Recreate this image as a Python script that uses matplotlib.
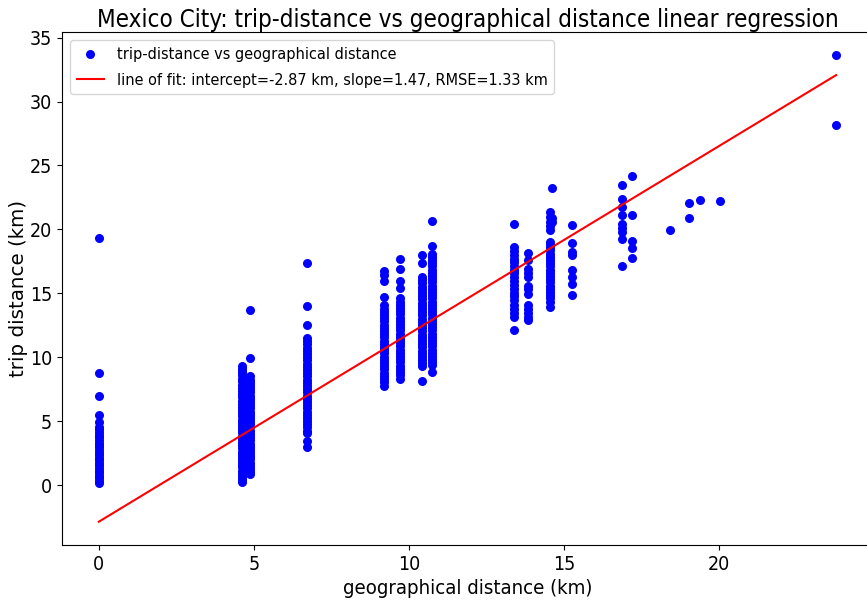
import os
import matplotlib
matplotlib.use("Agg")
import matplotlib.pyplot as plt
import matplotlib.font_manager as fm
import numpy as np

# ---------------- data ----------------
# each geographical distance (km) with the trip distances (km) observed there
geo_00_00 = 0.00
trip_00_00 = [19.3, 8.75, 6.95, 5.5, 4.9, 4.55, 4.35, 4.12, 3.95, 3.72, 3.55, 3.31, 3.12,
              2.95, 2.74, 2.52, 2.35, 2.14, 1.95, 1.72, 1.55, 1.33, 1.12, 0.95, 0.73,
              0.55, 0.34, 0.15]
geo_04_60 = 4.60
trip_04_60 = [9.35, 9.1, 8.85, 8.6, 8.33, 8.1, 7.86, 7.6, 7.35, 7.12, 6.88, 6.6, 6.37,
              6.1, 5.86, 5.62, 5.37, 5.1, 4.86, 4.62, 4.36, 4.12, 3.87, 3.6, 3.36, 3.12,
              2.86, 2.62, 2.37, 2.12, 1.86, 1.61, 1.37, 1.12, 0.86, 0.6, 0.42, 0.26]
geo_04_87 = 4.87
trip_04_87 = [13.7, 9.9, 8.5, 8.25, 8.0, 7.74, 7.5, 7.26, 7.0, 6.75, 6.5, 6.26, 6.0,
              5.74, 5.5, 5.25, 5.0, 4.75, 4.5, 4.25, 4.0, 3.75, 3.5, 3.24, 3.0, 2.75,
              2.5, 2.25, 2.0, 1.75, 1.5, 1.25, 1.05, 0.86]
geo_06_70 = 6.70
trip_06_70 = [17.4, 14.0, 12.55, 11.5, 11.26, 11.0, 10.75, 10.5, 10.24, 10.0, 9.75, 9.5,
              9.25, 9.0, 8.74, 8.5, 8.25, 8.0, 7.75, 7.5, 7.25, 7.0, 6.75, 6.5, 6.25,
              6.0, 5.75, 5.5, 5.25, 5.0, 4.75, 4.5, 4.25, 4.04, 3.45, 2.99]
geo_09_20 = 9.20
trip_09_20 = [16.74, 16.4, 15.94, 14.7, 14.06, 13.8, 13.55, 13.3, 13.05, 12.8, 12.55,
              12.3, 12.05, 11.8, 11.55, 11.3, 11.05, 10.8, 10.55, 10.3, 10.05, 9.8,
              9.55, 9.3, 9.05, 8.8, 8.55, 8.3, 8.05, 7.73]
geo_09_71 = 9.71
trip_09_71 = [17.7, 16.87, 15.94, 15.4, 14.6, 14.35, 14.1, 13.85, 13.6, 13.35, 13.1,
              12.85, 12.6, 12.35, 12.1, 11.85, 11.6, 11.35, 11.1, 10.85, 10.6, 10.35,
              10.1, 9.85, 9.6, 9.35, 9.1, 8.85, 8.6, 8.33]
geo_10_41 = 10.41
trip_10_41 = [18.0, 17.4, 16.27, 16.02, 15.78, 15.52, 15.27, 15.02, 14.77, 14.52, 14.27,
              14.02, 13.77, 13.52, 13.27, 13.02, 12.77, 12.52, 12.27, 12.02, 11.77,
              11.52, 11.27, 11.02, 10.77, 10.52, 10.27, 10.02, 9.77, 9.52, 9.3, 8.15]
geo_10_73 = 10.73
trip_10_73 = [20.65, 18.67, 18.1, 17.85, 17.6, 17.35, 17.1, 16.85, 16.6, 16.35, 16.1,
              15.85, 15.6, 15.35, 15.1, 14.85, 14.6, 14.35, 14.1, 13.85, 13.6, 13.35,
              13.1, 12.85, 12.6, 12.35, 12.1, 11.85, 11.6, 11.35, 11.1, 10.85, 10.6,
              10.35, 10.1, 9.85, 9.6, 9.4, 8.85]
geo_13_37 = 13.37
trip_13_37 = [20.45, 18.6, 18.3, 18.0, 17.72, 17.45, 17.15, 16.85, 16.55, 16.25, 15.95,
              15.65, 15.35, 15.05, 14.75, 14.45, 14.1, 13.75, 13.45, 13.15, 12.15]
geo_13_82 = 13.82
trip_13_82 = [18.15, 17.58, 16.93, 16.6, 16.27, 15.6, 15.3, 14.98, 14.06, 13.75, 13.45,
              13.15, 12.9]
geo_14_55 = 14.55
trip_14_55 = [21.35, 20.96, 20.6, 20.3, 19.95, 19.0, 18.88, 18.6, 18.35, 18.1, 17.85,
              17.6, 17.35, 17.1, 16.85, 16.6, 16.35, 16.1, 15.85, 15.6, 15.35, 15.1,
              14.85, 14.6, 14.32, 13.93]
geo_14_62 = 14.62
trip_14_62 = [23.25, 20.9, 20.6]
geo_15_25 = 15.25
trip_15_25 = [20.37, 18.96, 18.23, 17.97, 16.8, 16.27, 15.76, 14.84]
geo_16_86 = 16.86
trip_16_86 = [23.44, 22.4, 21.74, 21.1, 20.45, 20.12, 19.8, 19.27, 17.1]
geo_17_20 = 17.20
trip_17_20 = [24.14, 21.12, 19.06, 18.57, 17.76]
geo_18_40 = 18.40
trip_18_40 = [19.92]
geo_19_02 = 19.02
trip_19_02 = [22.09, 20.92]
geo_19_39 = 19.39
trip_19_39 = [22.27]
geo_20_04 = 20.04
trip_20_04 = [22.21]
geo_23_77 = 23.77
trip_23_77 = [33.62, 28.18]

fit_intercept_km = -2.87
fit_slope = 1.47
fit_rmse_km = 1.33

x_ticks = [0, 5, 10, 15, 20]
x_tick_labels = ["0", "5", "10", "15", "20"]
y_ticks = [0, 5, 10, 15, 20, 25, 30, 35]
y_tick_labels = ["0", "5", "10", "15", "20", "25", "30", "35"]

title_text = "Mexico City: trip-distance vs geographical distance linear regression"
x_label = "geographical distance (km)"
y_label = "trip distance (km)"
scatter_label = "trip-distance vs geographical distance"
fit_label = (f"line of fit: intercept={fit_intercept_km:.2f} km, "
             f"slope={fit_slope:.2f}, RMSE={fit_rmse_km:.2f} km")

groups = [
    (geo_00_00, trip_00_00), (geo_04_60, trip_04_60), (geo_04_87, trip_04_87),
    (geo_06_70, trip_06_70), (geo_09_20, trip_09_20), (geo_09_71, trip_09_71),
    (geo_10_41, trip_10_41), (geo_10_73, trip_10_73), (geo_13_37, trip_13_37),
    (geo_13_82, trip_13_82), (geo_14_55, trip_14_55), (geo_14_62, trip_14_62),
    (geo_15_25, trip_15_25), (geo_16_86, trip_16_86), (geo_17_20, trip_17_20),
    (geo_18_40, trip_18_40), (geo_19_02, trip_19_02), (geo_19_39, trip_19_39),
    (geo_20_04, trip_20_04), (geo_23_77, trip_23_77),
]
xs = np.concatenate([[g] * len(t) for g, t in groups])
ys = np.concatenate([t for g, t in groups])

# ---------------- fonts: look for a condensed / narrow sans ----------------
def find_narrow_font():
    fam_pref = ["dejavu", "liberation", "noto", "open", "roboto", "lato", "inter"]
    bad = ("bold", "italic", "oblique", "light", "thin", "black", "medium",
           "semibold", "extrabold", "heavy", "mono", "display", "cjk")
    best, best_score = None, None
    for f in fm.fontManager.ttflist:
        fn = os.path.basename(f.fname).lower()
        if not any(k in fn for k in ("condensed", "narrow", "cond")):
            continue
        if any(b in fn for b in bad):
            continue
        if "serif" in fn and "sans" not in fn:
            continue
        fam = f.name.lower()
        fi = next((i for i, p in enumerate(fam_pref) if p in fam or p in fn), 99)
        if "extra" in fn or "ultra" in fn:
            wi = 1
        elif "semi" in fn:
            wi = 2
        else:
            wi = 0
        score = (wi, fi)
        if best_score is None or score < best_score:
            best, best_score = f.fname, score
    return best

narrow_path = find_narrow_font()

def fprop(size):
    if narrow_path:
        return fm.FontProperties(fname=narrow_path, size=size)
    return fm.FontProperties(family="DejaVu Sans", size=size)

# ---------------- figure ----------------
fig = plt.figure(figsize=(8.67, 6.01), dpi=100)
ax = fig.add_axes([62 / 867, (601 - 545) / 601, 811 / 867, 513 / 601])

sc = ax.scatter(xs, ys, s=30, color="blue", label=scatter_label, zorder=2)
line_x = np.array([xs.min(), xs.max()])
ln, = ax.plot(line_x, fit_intercept_km + fit_slope * line_x, color="red",
              linewidth=1.5, label=fit_label, zorder=3)

# sizes: cap-height based sizes from the reference, shrunk if wider than the reference
fig.canvas.draw()
renderer = fig.canvas.get_renderer()

def fitted_size(text, size, target_w):
    probe = fig.text(0, 0, text, fontproperties=fprop(size))
    w = probe.get_window_extent(renderer).width
    probe.remove()
    return size * min(1.0, target_w / w)

title_size = fitted_size(title_text, 20.6, 742)
xlabel_size = fitted_size(x_label, 18.0, 250)
tick_size = fitted_size("35", 16.5, 22.5)
legend_size = fitted_size(fit_label, 14.5, 430)

ax.set_title(title_text, fontproperties=fprop(title_size), pad=3)
ax.set_xlabel(x_label, fontproperties=fprop(xlabel_size))
ax.set_ylabel(y_label, fontsize=14.3, family="DejaVu Sans")
ax.yaxis.set_label_coords(-0.0425, 0.5)
ax.set_xticks(x_ticks)
ax.set_xticklabels(x_tick_labels, fontproperties=fprop(tick_size))
ax.set_yticks(y_ticks)
ax.set_yticklabels(y_tick_labels, fontproperties=fprop(tick_size))

ax.legend(handles=[sc, ln], loc="upper left", prop=fprop(legend_size),
          handlelength=1.7, labelspacing=0.7)

fig.savefig("out.png", dpi=100)
